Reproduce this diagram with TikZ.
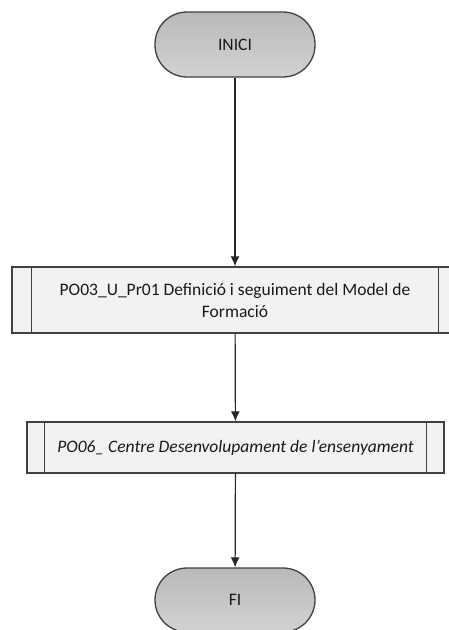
\documentclass[tikz,border=0pt]{standalone}
\usepackage{fontspec}
\setmainfont{Carlito}
\usepackage{tikz}
\usetikzlibrary{arrows.meta}

\definecolor{lineg}{HTML}{404040}
\definecolor{termtop}{HTML}{B9B9B9}
\definecolor{termbot}{HTML}{D2D2D2}
\definecolor{procfill}{HTML}{F2F2F2}

\begin{document}
\begin{tikzpicture}[x=1pt,y=-1pt,>={Latex[length=10pt,width=9pt]}]
\tikzstyle{every node}=[font=\fontsize{17.5}{22}\selectfont,align=center,text=black!90]
\tikzstyle{terminal}=[draw=lineg,line width=1.3pt,rounded corners=32pt,top color=termtop,bottom color=termbot,minimum width=160pt,inner sep=0pt]
\tikzstyle{process}=[draw=lineg,line width=1.3pt,fill=procfill,inner sep=0pt]
\tikzstyle{flow}=[draw=black!85,line width=1.2pt,->]
\useasboundingbox (0,0) rectangle (449,630);
% nodes
\node[terminal,minimum height=65pt] (inici) at (235,44.5) {INICI};
\node[process,minimum width=446pt,minimum height=66pt] (pr01) at (235,300) {PO03\_U\_Pr01 Definició i seguiment del Model de\\Formació};
\node[process,minimum width=417pt,minimum height=51pt] (po06) at (235.5,447.5) {\itshape PO06\_ Centre Desenvolupament de l’ensenyament};
\node[terminal,minimum height=64pt] (fi) at (235,600) {FI};
% side bars
\draw[lineg,line width=1.3pt] ([xshift=20pt]pr01.north west) -- ([xshift=20pt]pr01.south west);
\draw[lineg,line width=1.3pt] ([xshift=-20pt]pr01.north east) -- ([xshift=-20pt]pr01.south east);
\draw[lineg,line width=1.3pt] ([xshift=18pt]po06.north west) -- ([xshift=18pt]po06.south west);
\draw[lineg,line width=1.3pt] ([xshift=-18pt]po06.north east) -- ([xshift=-18pt]po06.south east);
% connectors
\draw[flow] (inici) -- (pr01);
\draw[flow] (pr01) -- (po06);
\draw[flow] (po06) -- (fi);
\end{tikzpicture}
\end{document}
